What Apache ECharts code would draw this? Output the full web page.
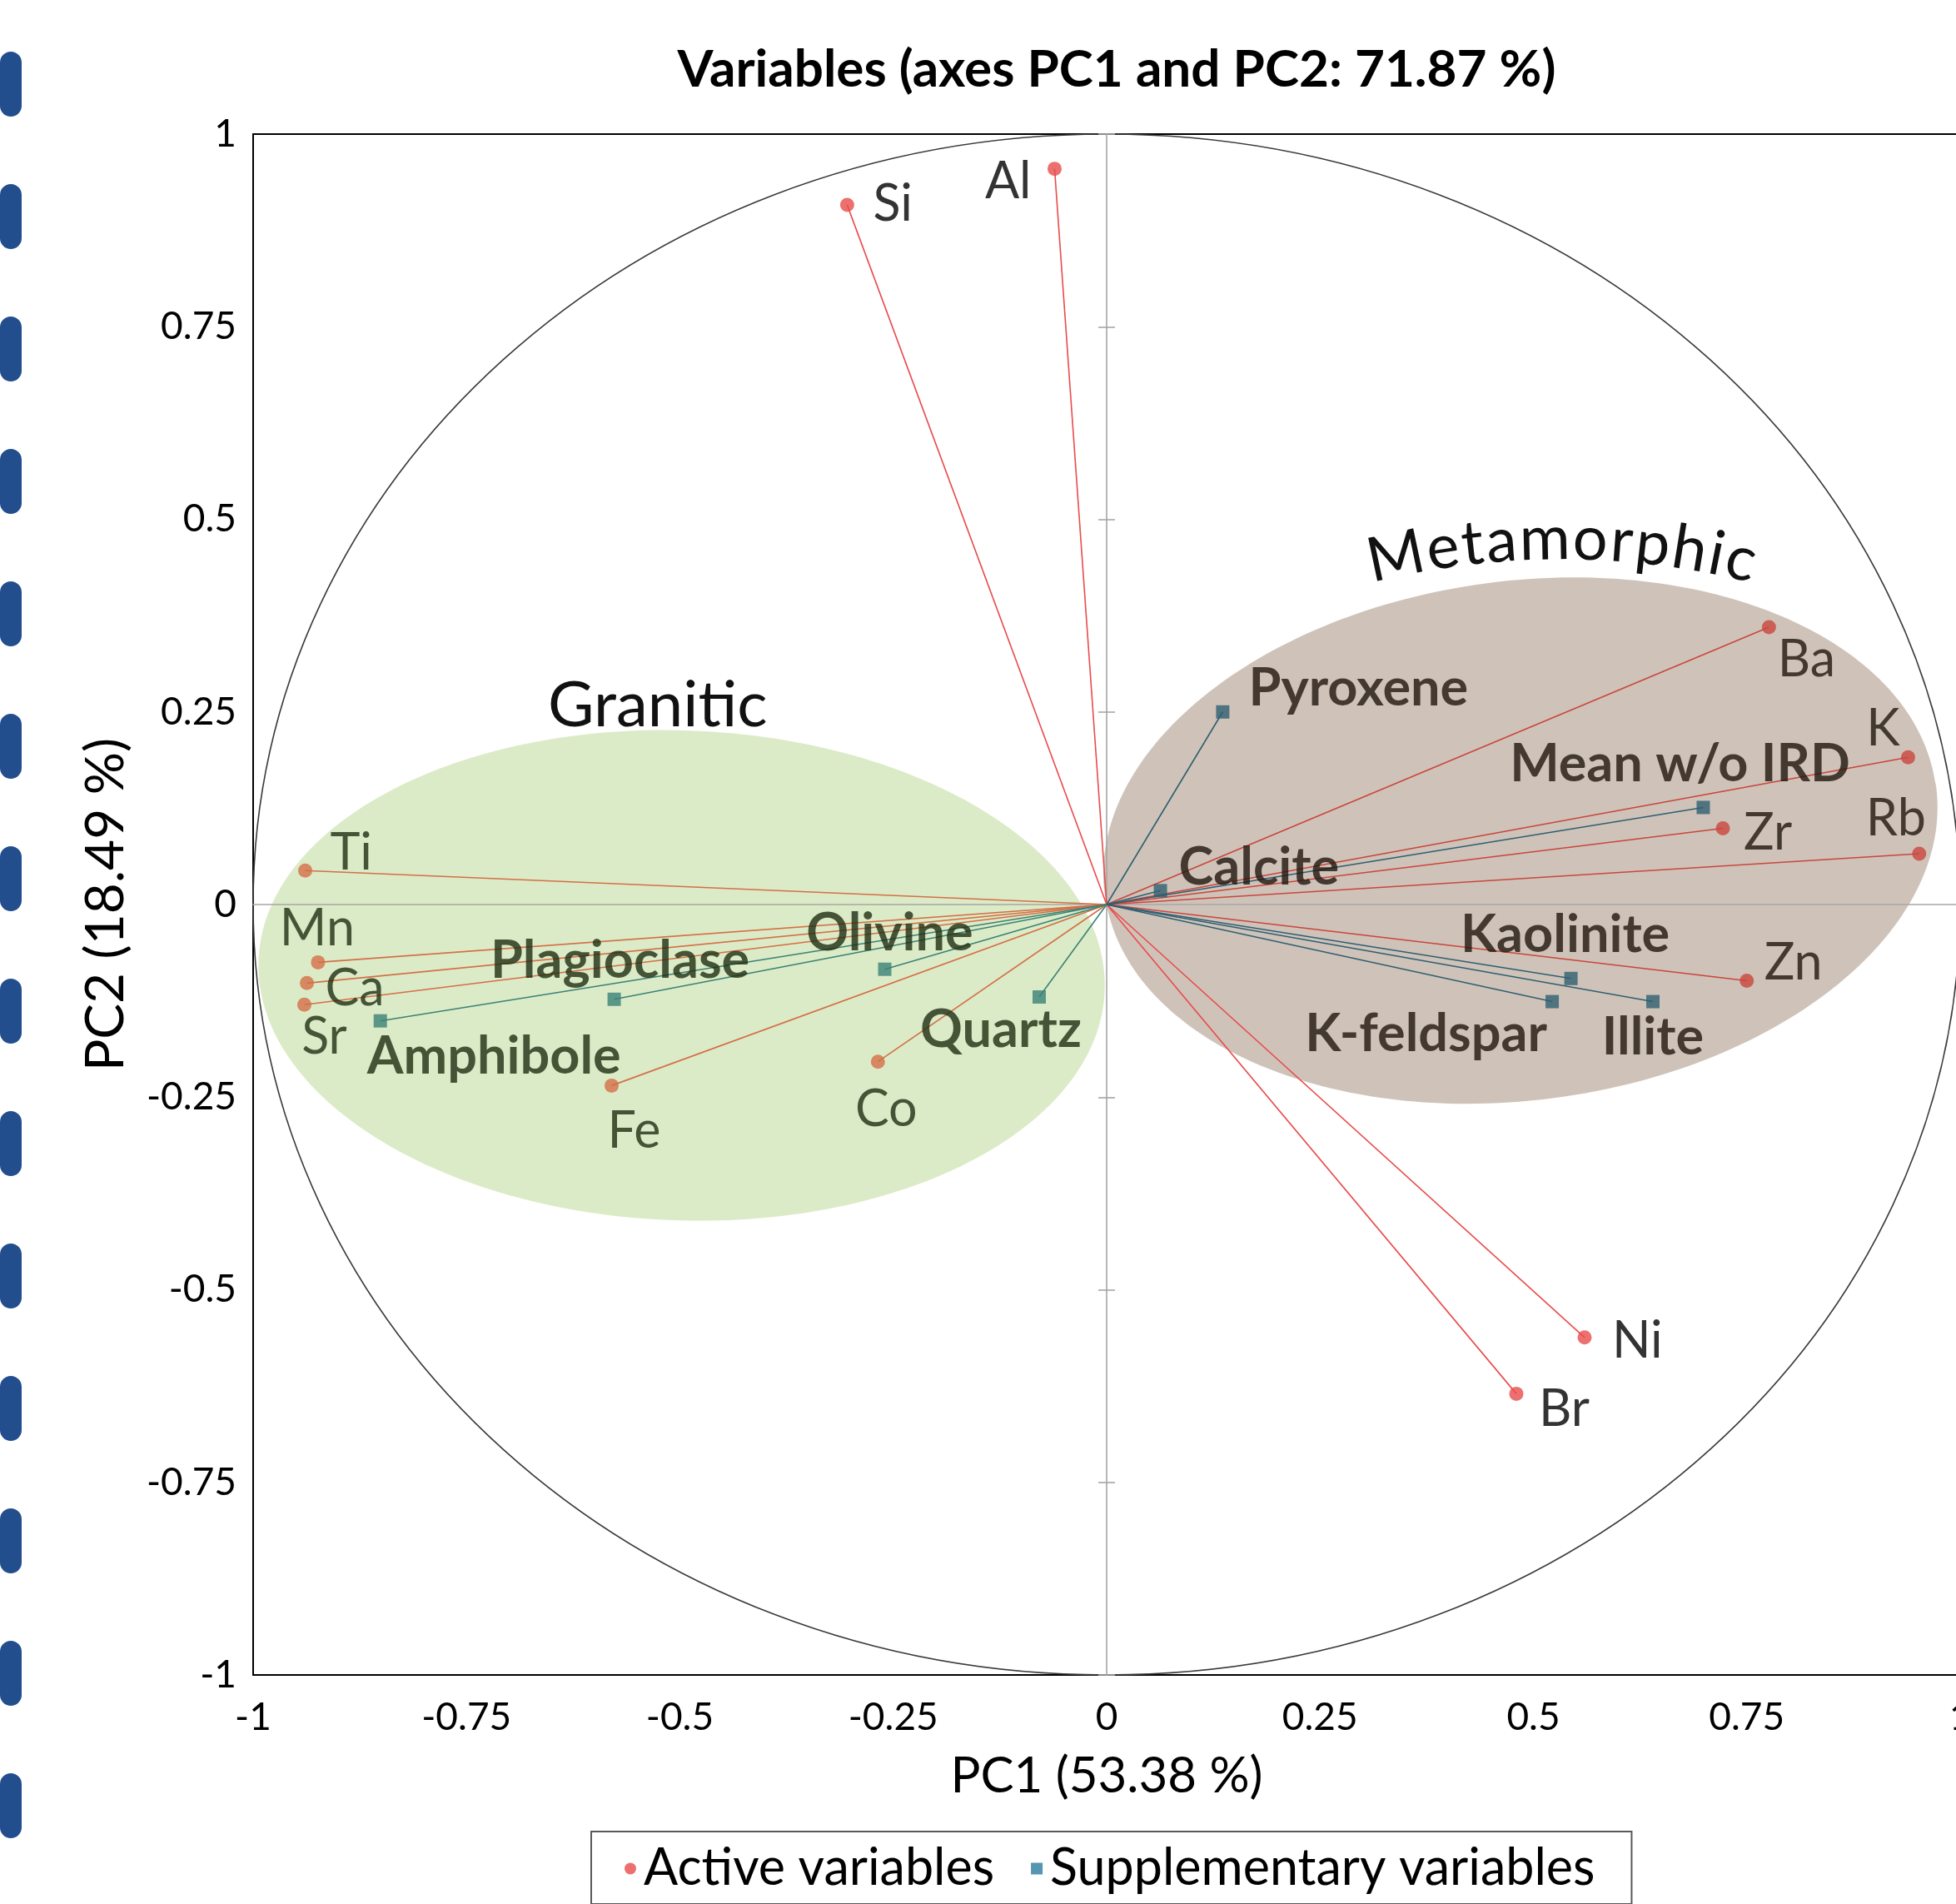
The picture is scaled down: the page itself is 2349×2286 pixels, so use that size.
<!DOCTYPE html>
<html>
<head>
<meta charset="utf-8">
<title>Variables (axes PC1 and PC2)</title>
<script src="https://cdn.jsdelivr.net/npm/echarts@6/dist/echarts.min.js"></script>
<style>
html, body { margin: 0; padding: 0; background: #fff; }
#chart { width: 2349px; height: 2286px; }
</style>
</head>
<body>
<div id="chart"></div>
<script>
// loadings
var activeNames = ['Si', 'Al', 'Ti', 'Mn', 'Ca', 'Sr', 'Fe', 'Co', 'Ba', 'K', 'Zr', 'Rb', 'Zn', 'Ni', 'Br'];
var activePC1 = [-0.304, -0.061, -0.939, -0.924, -0.937, -0.940, -0.580, -0.268, 0.776, 0.939, 0.722, 0.952, 0.750, 0.560, 0.480];
var activePC2 = [0.908, 0.955, 0.044, -0.075, -0.102, -0.130, -0.235, -0.204, 0.360, 0.191, 0.099, 0.066, -0.099, -0.562, -0.635];

var suppNames = ['Pyroxene', 'Mean w/o IRD', 'Calcite', 'Kaolinite', 'K-feldspar', 'Illite', 'Plagioclase', 'Olivine', 'Amphibole', 'Quartz'];
var suppPC1 = [0.136, 0.699, 0.063, 0.544, 0.522, 0.640, -0.577, -0.260, -0.851, -0.079];
var suppPC2 = [0.250, 0.126, 0.018, -0.096, -0.126, -0.126, -0.123, -0.084, -0.151, -0.120];

// which variables sit in which shaded group
var graniticGroup = ['Ti', 'Mn', 'Ca', 'Sr', 'Fe', 'Co', 'Plagioclase', 'Olivine', 'Amphibole', 'Quartz'];
var metamorphicGroup = ['Ba', 'K', 'Zr', 'Rb', 'Zn', 'Pyroxene', 'Mean w/o IRD', 'Calcite', 'Kaolinite', 'K-feldspar', 'Illite'];

// shaded groups: centre and half axes in PC units
var zoneNames = ['Granitic', 'Metamorphic'];
var zoneCX = [-0.498, 0.485];
var zoneCY = [-0.092, 0.083];
var zoneRX = [0.496, 0.491];
var zoneRY = [0.318, 0.337];

var FONT = 'Lato, "Open Sans", sans-serif';

// look of the groups (tilt in radians, where the group title sits)
var zoneStyle = [
    { fill: '#dcebc7', tilt: -0.035, titleAt: [-0.526, 0.258], arc: false },
    { fill: '#cfc3b9', tilt: 0.13, titleAt: [0.533, 0.474], arc: true }
];

var colorActive = { granitic: '#d36f47', metamorphic: '#c9463d', none: '#e84c4c' };
var colorSupp = { granitic: '#3b8275', metamorphic: '#2f5f72', none: '#2a7c9c' };
var labelColor = { granitic: '#1f2e12', metamorphic: '#20170f', none: '#000' };

// label placement: [align, dx, dy] from the point, px
var labelPlace = {
    'Si': ['left', 31, -1], 'Al': ['right', -28, 16], 'Ti': ['left', 30, -21],
    'Mn': ['center', -1, -40], 'Ca': ['left', 22, 7], 'Sr': ['center', 24, 39],
    'Fe': ['center', 27, 55], 'Co': ['center', 10, 58], 'Ba': ['center', 45, 39],
    'K': ['center', -30, -34], 'Zr': ['left', 25, 6], 'Rb': ['center', -28, -42],
    'Zn': ['left', 21, -21], 'Ni': ['left', 33, 4], 'Br': ['left', 27, 19],
    'Pyroxene': ['left', 31, -28], 'Mean w/o IRD': ['center', -28, -52],
    'Calcite': ['left', 22, -28], 'Kaolinite': ['center', -7, -52],
    'K-feldspar': ['right', -6, 39], 'Illite': ['center', 0, 43],
    'Plagioclase': ['center', 7, -46], 'Olivine': ['center', 6, -43],
    'Amphibole': ['left', -16, 43], 'Quartz': ['center', -46, 40]
};

function regionOf(name) {
    if (graniticGroup.indexOf(name) >= 0) return 'granitic';
    if (metamorphicGroup.indexOf(name) >= 0) return 'metamorphic';
    return 'none';
}

function buildPoints(names, xs, ys, palette, size, bold) {
    return names.map(function(n, i) {
        var r = regionOf(n);
        var p = labelPlace[n];
        return {
            name: n,
            value: [xs[i], ys[i]],
            itemStyle: { color: palette[r] },
            label: {
                show: true,
                formatter: n,
                position: [p[1] + size / 2, p[2] + size / 2],
                align: p[0],
                verticalAlign: 'middle',
                color: labelColor[r],
                fontFamily: FONT,
                fontSize: bold ? 63 : 61,
                fontWeight: bold ? 'bold' : 'normal'
            }
        };
    });
}

function buildSpokes(names, xs, ys, palette) {
    return names.map(function(n, i) {
        return { coords: [[0, 0], [xs[i], ys[i]]], lineStyle: { color: palette[regionOf(n)] } };
    });
}

// letters of an arched title
var measureCtx = document.createElement('canvas').getContext('2d');
function arcLetters(text, cx, cy, radius, fontSize, span) {
    measureCtx.font = fontSize + 'px Lato';
    var ws = text.split('').map(function(ch) { return measureCtx.measureText(ch).width; });
    var total = ws.reduce(function(a, b) { return a + b; }, 0);
    var extra = (span - total) / (text.length - 1);
    var s = -span / 2;
    var out = [];
    for (var i = 0; i < text.length; i++) {
        var mid = s + ws[i] / 2;
        var phi = mid / radius;
        out.push({
            type: 'text',
            x: cx + radius * Math.sin(phi),
            y: cy + radius - radius * Math.cos(phi),
            rotation: -phi,
            style: {
                text: text[i], fill: '#111', font: fontSize + 'px ' + FONT,
                align: 'center', verticalAlign: 'middle'
            }
        });
        s += ws[i] + extra;
    }
    return out;
}

function renderZone(params, api) {
    var i = params.dataIndex;
    var st = zoneStyle[i];
    var c = api.coord([api.value(0), api.value(1)]);
    var sz = api.size([api.value(2), api.value(3)]);
    var children = [{
        type: 'ellipse',
        x: c[0], y: c[1], rotation: st.tilt,
        shape: { cx: 0, cy: 0, rx: sz[0], ry: sz[1] },
        style: { fill: st.fill }
    }];
    var t = api.coord(st.titleAt);
    if (st.arc) {
        children = children.concat(arcLetters(zoneNames[i], t[0], t[1], 960, 74, 470));
    } else {
        children.push({
            type: 'text', x: t[0], y: t[1],
            style: { text: zoneNames[i], fill: '#111', font: '76px ' + FONT, align: 'center', verticalAlign: 'middle' }
        });
    }
    return { type: 'group', children: children };
}

function renderCircle(params, api) {
    var c = api.coord([api.value(0), api.value(1)]);
    var sz = api.size([api.value(2), api.value(2)]);
    return {
        type: 'ellipse',
        shape: { cx: c[0], cy: c[1], rx: sz[0], ry: sz[1] },
        style: { fill: null, stroke: '#3a3a3a', lineWidth: 1.6 }
    };
}

var chart = echarts.init(document.getElementById('chart'));

var innerLine = { color: '#a6a6a6', width: 1.6 };

var option = {
    animation: false,
    backgroundColor: '#fff',
    textStyle: { fontFamily: FONT },
    title: {
        text: 'Variables (axes PC1 and PC2: 71.87 %)',
        left: 1336,
        top: 48,
        textAlign: 'center',
        textStyle: { fontSize: 62, fontWeight: 'bold', color: '#000', fontFamily: FONT }
    },
    grid: {
        left: 304, top: 161, width: 2050, height: 1850,
        show: true, borderColor: '#000', borderWidth: 2,
        outerBoundsMode: 'none'
    },
    legend: {
        data: [
            { name: 'Active variables', icon: 'circle' },
            { name: 'Supplementary variables', icon: 'rect' }
        ],
        selectedMode: false,
        left: 710, top: 2199,
        itemWidth: 14, itemHeight: 14, itemGap: 44,
        padding: [14, 44, 12, 40],
        borderColor: '#595959', borderWidth: 2,
        textStyle: { fontSize: 61, color: '#000', fontFamily: FONT, padding: [0, 0, 0, 4] }
    },
    xAxis: [{
        type: 'value', min: -1, max: 1, interval: 0.25, position: 'bottom',
        axisLine: { show: false, onZero: false },
        axisTick: { show: false },
        splitLine: { show: false },
        axisLabel: { fontSize: 46, color: '#000', margin: 28, fontFamily: FONT },
        name: 'PC1 (53.38 %)', nameLocation: 'middle', nameGap: 92,
        nameTextStyle: { fontSize: 60, color: '#000', fontFamily: FONT }
    }, {
        type: 'value', min: -1, max: 1, interval: 0.25, position: 'bottom', z: 2,
        axisLine: { show: true, onZero: true, onZeroAxisIndex: 0, lineStyle: innerLine },
        axisTick: { show: false }, axisLabel: { show: false }, splitLine: { show: false }
    }],
    yAxis: [{
        type: 'value', min: -1, max: 1, interval: 0.25, position: 'left',
        axisLine: { show: false, onZero: false },
        axisTick: { show: false },
        splitLine: { show: false },
        axisLabel: { fontSize: 46, color: '#000', margin: 20, fontFamily: FONT },
        name: 'PC2 (18.49 %)', nameLocation: 'middle', nameGap: 145, nameRotate: 90,
        nameTextStyle: { fontSize: 64, color: '#000', fontFamily: FONT }
    }, {
        type: 'value', min: -1, max: 1, interval: 0.25, position: 'left', z: 2,
        axisLine: { show: true, onZero: true, onZeroAxisIndex: 0, lineStyle: innerLine },
        axisTick: { show: true, length: 10, lineStyle: innerLine },
        axisLabel: { show: false }, splitLine: { show: false }
    }, {
        type: 'value', min: -1, max: 1, interval: 0.25, position: 'left', z: 2,
        axisLine: { show: false, onZero: true, onZeroAxisIndex: 0 },
        axisTick: { show: true, inside: true, length: 10, lineStyle: innerLine },
        axisLabel: { show: false }, splitLine: { show: false }
    }],
    graphic: [{
        type: 'line', silent: true,
        shape: { x1: 13, y1: 75, x2: 13, y2: 2400 },
        style: { stroke: '#224e8e', lineWidth: 26, lineCap: 'round', lineDash: [52, 107] }
    }],
    series: [{
        type: 'custom', name: 'groups', z: 1, silent: true,
        renderItem: renderZone,
        data: zoneNames.map(function(n, i) { return [zoneCX[i], zoneCY[i], zoneRX[i], zoneRY[i]]; })
    }, {
        type: 'custom', name: 'circle', z: 2, silent: true,
        renderItem: renderCircle,
        data: [[0, 0, 1]]
    }, {
        type: 'lines', coordinateSystem: 'cartesian2d', z: 3, silent: true,
        lineStyle: { width: 1.6, opacity: 1 },
        data: buildSpokes(activeNames, activePC1, activePC2, colorActive)
    }, {
        type: 'lines', coordinateSystem: 'cartesian2d', z: 3, silent: true,
        lineStyle: { width: 1.6, opacity: 1 },
        data: buildSpokes(suppNames, suppPC1, suppPC2, colorSupp)
    }, {
        type: 'scatter', name: 'Active variables', z: 4,
        symbol: 'circle', symbolSize: 17,
        itemStyle: { color: '#e84c4c' },
        data: buildPoints(activeNames, activePC1, activePC2, colorActive, 17, false)
    }, {
        type: 'scatter', name: 'Supplementary variables', z: 4,
        symbol: 'rect', symbolSize: 16,
        itemStyle: { color: '#2a7c9c' },
        data: buildPoints(suppNames, suppPC1, suppPC2, colorSupp, 16, true)
    }]
};

chart.setOption(option);
</script>
</body>
</html>
